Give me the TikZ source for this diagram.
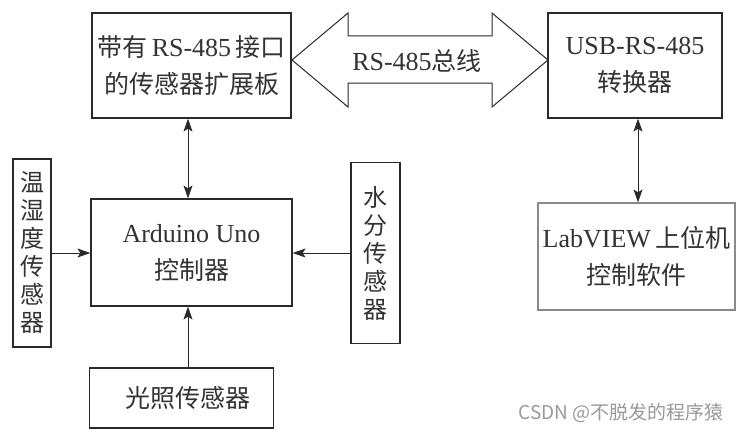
\documentclass[tikz,border=0pt]{standalone}
\usepackage{fontspec}
\setmainfont{Liberation Serif}[Scale=1.04]
\newfontfamily\cjk{Noto Sans CJK SC}
\newfontfamily\wmfont{Noto Sans CJK SC}
\usetikzlibrary{arrows.meta}
\newcommand{\zh}[1]{{\cjk #1}}
\definecolor{linec}{HTML}{2A2A2A}
\definecolor{textc}{HTML}{333333}
\definecolor{graybox}{HTML}{8A8A8A}
\definecolor{wmc}{HTML}{9A9A9A}
\begin{document}
\begin{tikzpicture}[x=1pt,y=-1pt,
  box/.style={draw=linec, line width=1.2pt, inner sep=0pt, align=center, text=textc,
    font=\fontsize{25}{37}\selectfont},
  vbox/.style={box, font=\fontsize{24}{28}\selectfont},
  conn/.style={draw=linec, line width=0.9pt, {Stealth[length=13pt,width=9pt,inset=3pt]}-{Stealth[length=13pt,width=9pt,inset=3pt]}},
  arr/.style={draw=linec, line width=0.9pt, -{Stealth[length=13pt,width=9pt,inset=3pt]}}]
\useasboundingbox[fill=white] (0,0) rectangle (743,436);

\node[box, minimum width=199pt, minimum height=105pt] (A) at (191.5,65.5)
  {\zh{带有}\,RS-485\,\zh{接口}\\\zh{的传感器扩展板}};
\node[box, minimum width=174pt, minimum height=105pt] (B) at (635,65.5)
  {USB-RS-485\\\zh{转换器}};
\node[box, draw=graybox, minimum width=197pt, minimum height=107pt] (C) at (636.5,256.5)
  {LabVIEW\,\zh{上位机}\\\zh{控制软件}};
\node[box, minimum width=201pt, minimum height=107pt] (D) at (191.5,252.5)
  {Arduino Uno\\\zh{控制器}};
\node[vbox, minimum width=38pt, minimum height=188pt] (L) at (32,253)
  {\zh{温}\\\zh{湿}\\\zh{度}\\\zh{传}\\\zh{感}\\\zh{器}};
\node[vbox, minimum width=49pt, minimum height=181pt] (R) at (375.5,253)
  {\zh{水}\\\zh{分}\\\zh{传}\\\zh{感}\\\zh{器}};
\node[box, minimum width=184pt, minimum height=60pt] (G) at (181.5,398)
  {\hspace*{12pt}\zh{光照传感器}};

% bus double arrow
\draw[draw=linec, line width=1pt, fill=white]
  (292,60) -- (348,13) -- (348,36) -- (492,36) -- (492,13) -- (548,60)
  -- (492,107) -- (492,83) -- (348,83) -- (348,107) -- cycle;
\node[text=textc, font=\fontsize{25}{28}\selectfont] (bus) at (417,61) {RS-485\zh{总线}};

% connectors
\draw[conn] ([xshift=-3.5pt]A.south) -- ([xshift=-3.5pt]A.south |- D.north);
\draw[conn] ([xshift=3pt]B.south) -- ([xshift=3pt]B.south |- C.north);
\draw[arr] (L.east) -- (L.east -| D.west);
\draw[arr] (R.west) -- (R.west -| D.east);
\draw[arr] ([xshift=6.5pt]G.north) -- ([xshift=6.5pt]G.north |- D.south);

\node[text=wmc, font=\wmfont\fontsize{19}{22}\selectfont, inner sep=0pt] (wm) at (621,413)
  {CSDN @不脱发的程序猿};
\end{tikzpicture}
\end{document}
